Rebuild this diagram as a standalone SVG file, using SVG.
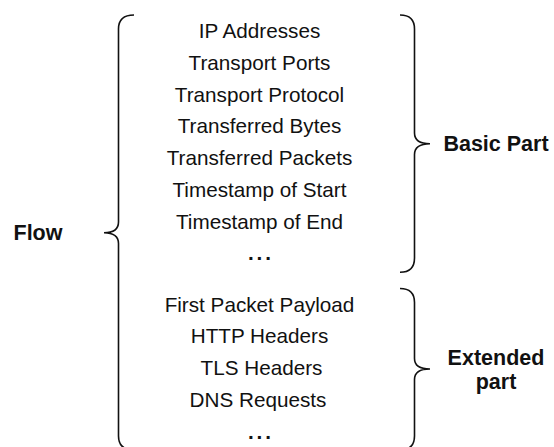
<svg xmlns="http://www.w3.org/2000/svg" width="554" height="447" viewBox="0 0 554 447">
<style>
.t{font-family:"Liberation Sans",Arial,sans-serif;font-size:20.7px;fill:#111;text-anchor:middle}
.b{font-family:"Liberation Sans",Arial,sans-serif;font-size:21.5px;font-weight:bold;fill:#111;text-anchor:middle}
.d{font-family:"Liberation Sans",Arial,sans-serif;font-size:20.7px;font-weight:bold;fill:#111;text-anchor:middle;letter-spacing:3px}
.br{fill:none;stroke:#111;stroke-width:1.6}
</style>
<rect width="554" height="447" fill="#fff"/>
<g id="connectors">
<path class="br" d="M134,15 Q118.5,15 118.5,29 L118.5,222 Q118.5,232.7 104,232.7 Q118.5,232.7 118.5,243.5 L118.5,436 Q118.5,450 134,450"/>
<path class="br" d="M400,15 Q414.5,15 414.5,29 L414.5,133 Q414.5,143.7 430,143.7 Q414.5,143.7 414.5,154.5 L414.5,258 Q414.5,272.3 400,272.3"/>
<path class="br" d="M400,288.5 Q414.5,288.5 414.5,302.5 L414.5,358.5 Q414.5,369 430,369 Q414.5,369 414.5,379.5 L414.5,436 Q414.5,450 400,450"/>
</g>
<g id="flow"><text class="b" x="38" y="239.5">Flow</text></g>
<g id="basic-fields">
<text class="t" x="259.5" y="38">IP Addresses</text>
<text class="t" x="259.5" y="69.8">Transport Ports</text>
<text class="t" x="259.5" y="101.6">Transport Protocol</text>
<text class="t" x="259.5" y="133.4">Transferred Bytes</text>
<text class="t" x="259.5" y="165.2">Transferred Packets</text>
<text class="t" x="259.5" y="197">Timestamp of Start</text>
<text class="t" x="259.5" y="228.8">Timestamp of End</text>
<text class="d" x="261" y="260">...</text>
</g>
<g id="extended-fields">
<text class="t" x="259.5" y="311.7">First Packet Payload</text>
<text class="t" x="259.5" y="343.3">HTTP Headers</text>
<text class="t" x="261.5" y="375">TLS Headers</text>
<text class="t" x="258" y="406.7">DNS Requests</text>
<text class="d" x="261" y="438.5">...</text>
</g>
<g id="basic-part"><text class="b" x="496" y="151">Basic Part</text></g>
<g id="extended-part"><text class="b" x="496" y="365">Extended<tspan x="496" y="388.5">part</tspan></text></g>
</svg>
